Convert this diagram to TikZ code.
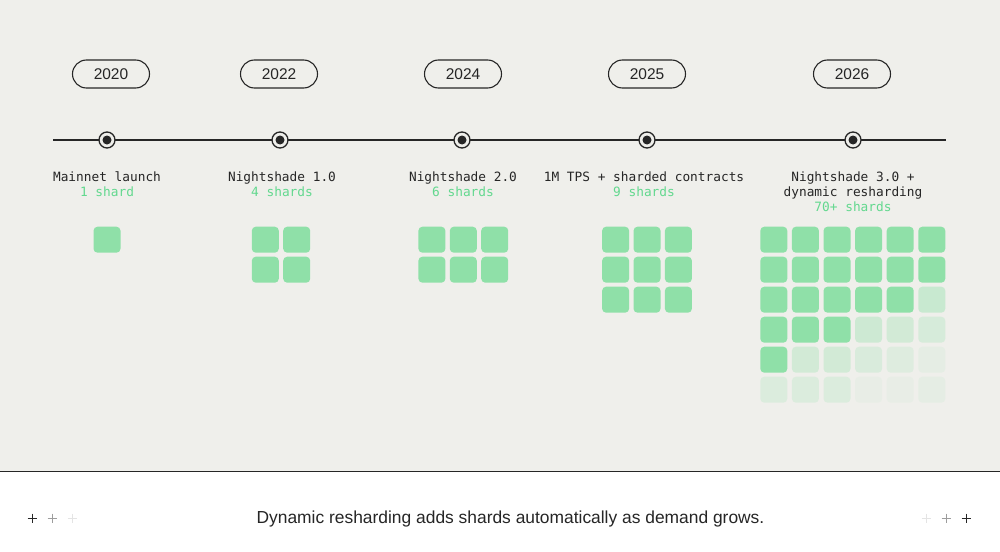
\documentclass[tikz,border=0pt]{standalone}
\usepackage{fontspec}
\setmainfont{Liberation Sans}
\newfontfamily\labelfont{DejaVu Sans Mono}
\usetikzlibrary{positioning}
\definecolor{paper}{HTML}{EFEFEB}
\definecolor{ink}{HTML}{262626}
\definecolor{shard}{HTML}{8FE0A8}
\definecolor{shardtext}{HTML}{62D88E}
\tikzset{
  year/.style={draw=ink, line width=1.1pt, rounded corners=14pt, minimum width=77pt,
    minimum height=28pt, inner sep=0pt, text=ink, font=\fontsize{15.5}{18}\selectfont},
  milestone/.style={circle, draw=ink, line width=1.3pt, fill=paper, minimum size=16pt, inner sep=0pt},
  core/.style={circle, fill=ink, minimum size=9pt, inner sep=0pt},
  event/.style={inner sep=0pt, text height=9pt, text depth=2.5pt, text=ink,
    font=\labelfont\fontsize{12.8}{14.7}\selectfont},
  count/.style={event, text=shardtext},
  shardbox/.style={fill=shard, rounded corners=4pt, minimum width=27pt, minimum height=26pt, inner sep=0pt},
  plusmark/.style={draw=ink, line width=1pt},
}
\begin{document}
\begin{tikzpicture}[x=1pt,y=-1pt]
\useasboundingbox (0,0) rectangle (1000,551);
% panels
\fill[paper] (0,0) rectangle (1000,471);
\fill[white] (0,471) rectangle (1000,551);
\coordinate (rule-l) at (0,471.5);
\coordinate (rule-r) at (1000,471.5);
\draw[ink, line width=1pt] (rule-l) -- (rule-r);

% the timeline
\coordinate (tl-start) at (53,140);
\coordinate (tl-end) at (946,140);
\draw[ink, line width=1.3pt] (tl-start) -- (tl-end);
\foreach \yr/\x/\px in {2020/107/111, 2022/280/279, 2024/462/463, 2025/647/647, 2026/853/852}{
  \node[year] (year-\yr) at (\px,74) {\yr};
  \node[milestone] (dot-\yr) at (\x,140) {};
  \node[core] (core-\yr) at (dot-\yr) {};
}

% what each year brings
\node[event] (event-2020) at (107,178) {Mainnet launch};
\node[count, below=3.2pt of event-2020] (count-2020) {1 shard};
\node[event] (event-2022) at (282,178) {Nightshade 1.0};
\node[count, below=3.2pt of event-2022] (count-2022) {4 shards};
\node[event] (event-2024) at (463,178) {Nightshade 2.0};
\node[count, below=3.2pt of event-2024] (count-2024) {6 shards};
\node[event] (event-2025) at (644,178) {1M TPS + sharded contracts};
\node[count, below=3.2pt of event-2025] (count-2025) {9 shards};
\node[event] (event-2026) at (853,178) {Nightshade 3.0 +};
\node[event, below=3.2pt of event-2026] (event-2026b) {dynamic resharding};
\node[count, below=3.2pt of event-2026b] (count-2026) {70+ shards};

% shard grids
\foreach \yr/\cx/\cols/\rows in {2020/107/1/1, 2022/281/2/2, 2024/463.3/3/2, 2025/647/3/3}{
  \foreach \r in {1,...,\rows}{
    \foreach \c in {1,...,\cols}{
      \node[shardbox] (shard-\yr-\r-\c) at ({\cx+(\c-(\cols+1)/2)*31.4}, {239.7+(\r-1)*30}) {};
    }
  }
}
% 2026 grid fades out
\foreach \row [count=\r] in {{1,1,1,1,1,1},{1,1,1,1,1,1},{1,1,1,1,1,.4},
    {1,1,1,.35,.3,.25},{1,.3,.3,.22,.17,.1},{.2,.2,.2,.07,.07,.1}}{
  \foreach \op [count=\c] in \row{
    \node[shardbox, fill opacity=\op] (shard-2026-\r-\c) at ({852.8+(\c-3.5)*31.6}, {239.7+(\r-1)*30}) {};
  }
}

% caption
\node[text=ink, font=\fontsize{17.4}{20}\selectfont] (caption) at (510.5,519)
  {Dynamic resharding adds shards automatically as demand grows.};
\foreach \x/\op in {32/1, 52/.45, 72/.12, 926/.12, 946/.45, 966/1}{
  \draw[plusmark, draw opacity=\op] (\x-4.5,518) -- (\x+4.5,518) (\x,513.5) -- (\x,522.5);
}
\end{tikzpicture}
\end{document}
